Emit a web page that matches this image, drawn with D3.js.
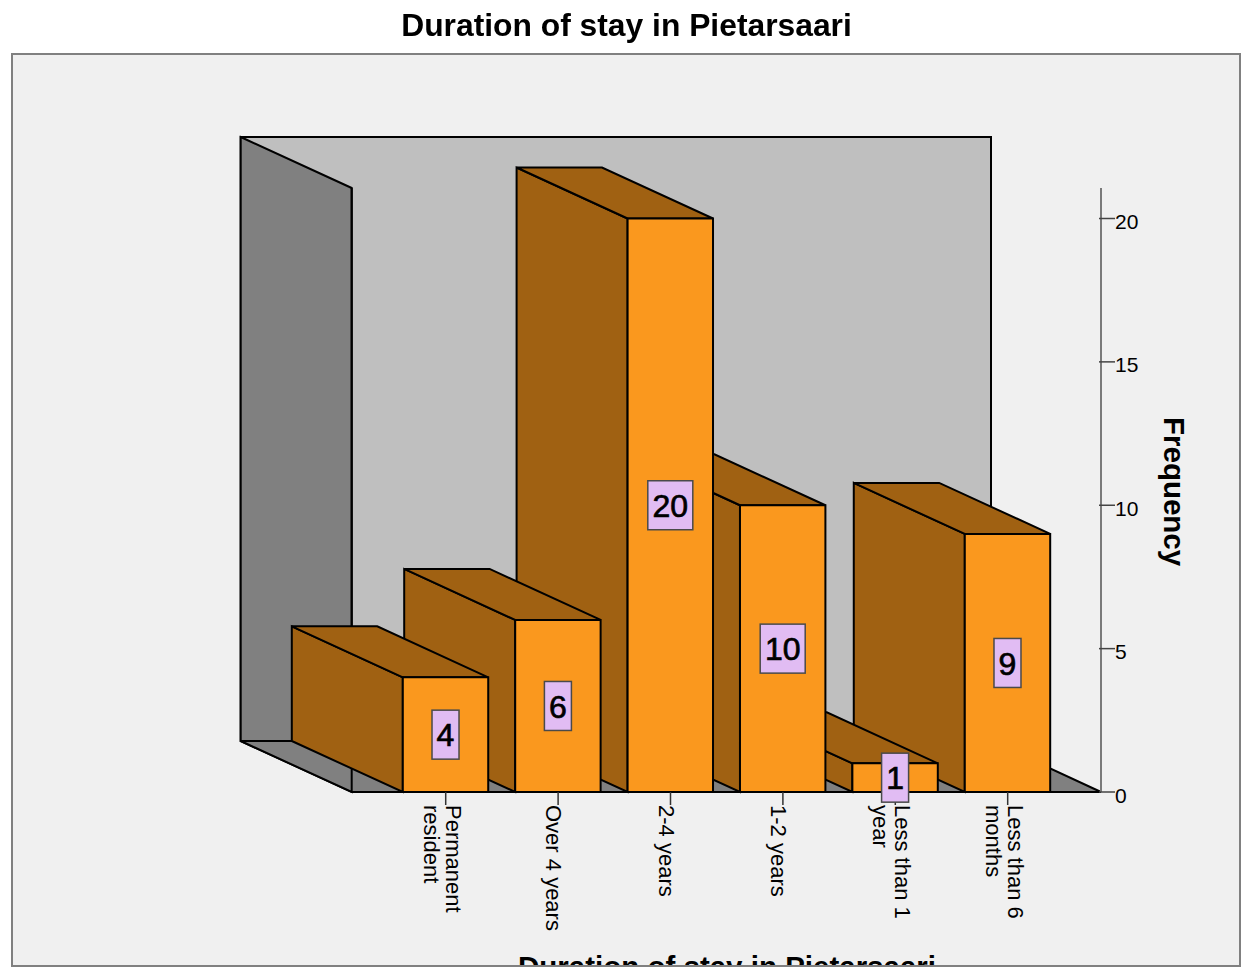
<!DOCTYPE html>
<html><head><meta charset="utf-8">
<script src="https://cdn.jsdelivr.net/npm/d3@7"></script>
<style>html,body{margin:0;padding:0;background:#fff}svg{display:block;filter:blur(0.5px)}text{font-family:"Liberation Sans",Arial,sans-serif;fill:#000}</style>
</head><body><svg id="c" width="1246" height="968"></svg>
<script>
const categories = [["Permanent","resident"],["Over 4 years"],["2-4 years"],["1-2 years"],["Less than 1","year"],["Less than 6","months"]];
const frequencies = [4,6,20,10,1,9];
const yTicks = [0,5,10,15,20];
const chartTitle = "Duration of stay in Pietarsaari";
const yTitle = "Frequency";
const idx = d3.range(categories.length);

const svg = d3.select("#c");
const W = {l:351.7,r:1101,b:792,top:188};
const depth = {x:-111,y:-51};
const x = d3.scaleBand().domain(idx).range([352,W.r]).paddingInner(0.24).paddingOuter(0.452);
const y = d3.scaleLinear().domain([0,20]).range([W.b,218.5]);
const line = d3.line();
const sw = "#a06112", fr = "#fa981e";

svg.append("defs").append("clipPath").attr("id","panel").append("rect").attr("x",11).attr("y",53).attr("width",1229).attr("height",912);
svg.append("rect").attr("x",12).attr("y",54).attr("width",1228).attr("height",912).attr("fill","#f0f0f0");

function poly(pts,fill,stroke="#000"){
  svg.append("path").attr("d",line(pts)+"Z").attr("fill",fill).attr("stroke",stroke).attr("stroke-width",2).attr("stroke-linejoin","miter");
}
const bx=W.l+depth.x, by=W.b+depth.y, ty=W.top+depth.y;
poly([[bx,ty],[W.r+depth.x+1,ty],[W.r+depth.x+1,by],[bx,by]],"#bfbfbf");
poly([[bx,ty],[W.l,W.top],[W.l,W.b],[bx,by]],"#808080");
poly([[bx,by],[W.l,W.b],[W.r,W.b],[W.r+depth.x+1,by]],"#808080");
svg.append("line").attr("x1",W.l).attr("x2",W.l).attr("y1",W.top).attr("y2",W.b).attr("stroke","#000").attr("stroke-width",2);

// bars, far right first so left bars overlap their neighbours' sides
idx.slice().reverse().forEach(i=>{
  const a=x(i), b=a+x.bandwidth(), t=y(frequencies[i]), f=W.b;
  poly([[a,t],[a+depth.x,t+depth.y],[a+depth.x,f+depth.y],[a,f]],sw);
  poly([[a,t],[a+depth.x,t+depth.y],[b+depth.x,t+depth.y],[b,t]],sw);
  poly([[a,t],[b,t],[b,f],[a,f]],fr);
});

// y axis
const yAxis = svg.append("g").attr("transform",`translate(${W.r},0)`);
yAxis.append("line").attr("y1",W.top).attr("y2",W.b).attr("stroke","#7a7a7a").attr("stroke-width",2);
yAxis.selectAll("line.t").data(yTicks).join("line").attr("class","t").attr("x1",-2).attr("x2",14).attr("y1",y).attr("y2",y).attr("stroke","#444").attr("stroke-width",1.5);
yAxis.selectAll("text").data(yTicks).join("text").attr("x",14).attr("y",d=>y(d)+10.5).attr("font-size",21).text(d=>d);

// x ticks + rotated labels
idx.forEach(i=>{
  const c=x(i)+x.bandwidth()/2+0.2;
  svg.append("line").attr("x1",c).attr("x2",c).attr("y1",W.b).attr("y2",805).attr("stroke","#333").attr("stroke-width",1.5);
  const lines=categories[i];
  lines.forEach((s,j)=>{
    const bl = lines.length===1 ? c-12 : c-(j*22);
    svg.append("text").attr("transform",`translate(${bl},805) rotate(90)`).attr("font-size",22).text(s);
  });
});

// value labels
idx.forEach(i=>{
  const c=x(i)+x.bandwidth()/2, m=y(frequencies[i]/2), s=String(frequencies[i]);
  const w=s.length>1?45:27;
  svg.append("rect").attr("x",c-w/2).attr("y",m-24.5).attr("width",w).attr("height",49).attr("fill","#e1bcf3").attr("stroke","#4a4a4a").attr("stroke-width",1.5);
  svg.append("text").attr("x",c).attr("y",m+11.8).attr("text-anchor","middle").attr("font-size",32).attr("stroke","#000").attr("stroke-width",0.7).text(s);
});

svg.append("text").attr("transform","translate(1164,417) rotate(90)").attr("font-size",29.5).attr("font-weight","bold").text(yTitle);
svg.append("text").attr("x",626.5).attr("y",36).attr("text-anchor","middle").attr("font-size",31.8).attr("font-weight","bold").text(chartTitle);
svg.append("g").attr("clip-path","url(#panel)").append("text").attr("x",727).attr("y",977).attr("text-anchor","middle").attr("font-size",29.5).attr("font-weight","bold").text(chartTitle);

svg.append("rect").attr("x",12).attr("y",54).attr("width",1228).attr("height",912).attr("fill","none").attr("stroke","#808080").attr("stroke-width",2);
</script></body></html>
